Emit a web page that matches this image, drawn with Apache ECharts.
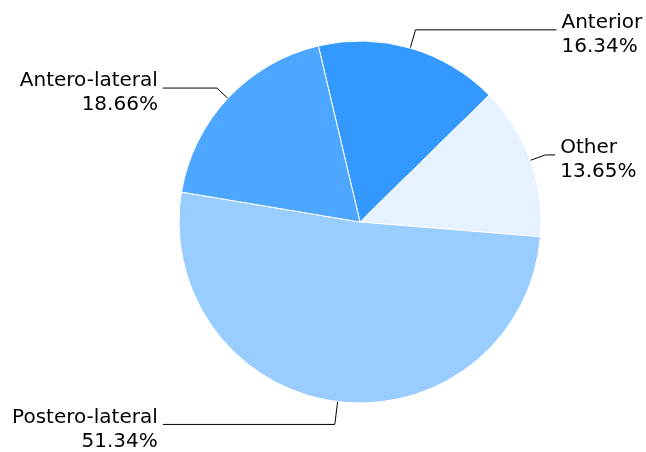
<!DOCTYPE html>
<html>
<head>
<meta charset="utf-8">
<script src="https://cdn.jsdelivr.net/npm/echarts@6/dist/echarts.min.js"></script>
<style>
  html, body { margin: 0; padding: 0; background: #fff; }
  #main { width: 646px; height: 452px; }
</style>
</head>
<body>
<div id="main"></div>
<script>
// data (percent shares)
var categories = ['Anterior', 'Other', 'Postero-lateral', 'Antero-lateral'];
var shares = [16.34, 13.65, 51.34, 18.66];
var colors = ['#3399ff', '#e6f2ff', '#99ccff', '#4da6ff'];
// per-slice label line lengths [length, length2]
var lineLens = [[19, 141], [16, 10], [23, 172], [15, 54]];

var chart = echarts.init(document.getElementById('main'));

var pieData = categories.map(function (name, i) {
  return {
    name: name,
    value: shares[i],
    itemStyle: { color: colors[i] },
    labelLine: { length: lineLens[i][0], length2: lineLens[i][1] }
  };
});

var option = {
  animation: false,
  series: [
    {
      type: 'pie',
      center: [360, 222],
      radius: 181,
      startAngle: 103.3,
      clockwise: true,
      avoidLabelOverlap: false,
      itemStyle: {
        borderColor: '#fff',
        borderWidth: 1
      },
      label: {
        // small spacer line on top pushes the text a few px below the line
        formatter: function (p) {
          return '{s| }\n' + p.name + '\n' + p.value + '%';
        },
        fontFamily: 'DejaVu Sans',
        fontSize: 20,
        lineHeight: 24,
        color: '#000',
        bleedMargin: 0,
        rich: {
          s: { fontSize: 1, lineHeight: 10 }
        }
      },
      labelLine: {
        lineStyle: { color: '#000', width: 1 }
      },
      emphasis: { disabled: true },
      data: pieData
    }
  ]
};

if (option && typeof option === 'object') {
  chart.setOption(option);
}

window.addEventListener('resize', chart.resize);
</script>
</body>
</html>
